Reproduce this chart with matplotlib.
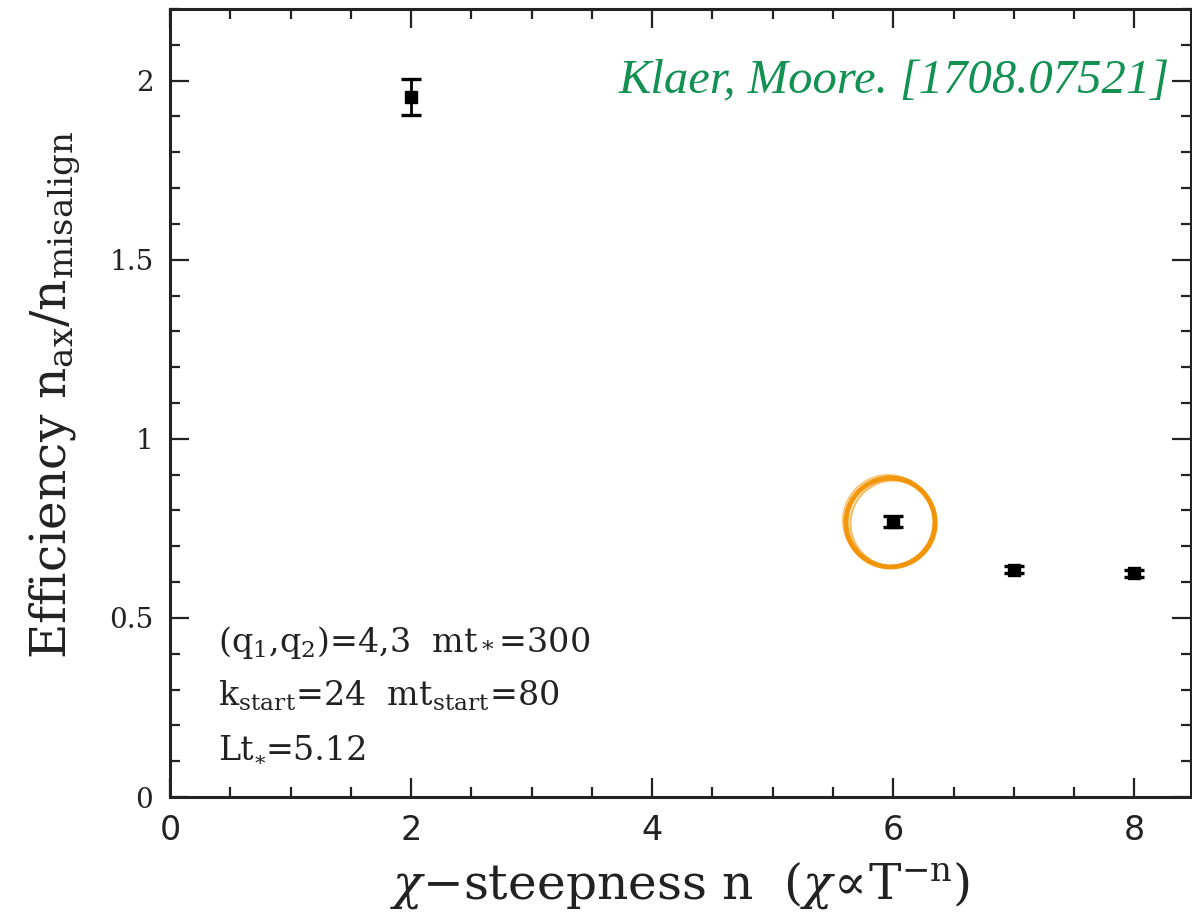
import matplotlib
matplotlib.use("Agg")
import matplotlib.pyplot as plt
from matplotlib.ticker import MultipleLocator

# Data: efficiency vs. chi-steepness exponent n
steepness = [2, 6, 7, 8]
efficiency = [1.955, 0.769, 0.635, 0.624]
efficiency_err = [0.050, 0.015, 0.010, 0.010]

xticks = [0, 2, 4, 6, 8]
yticks = [0, 0.5, 1, 1.5, 2]
ytick_labels = ["0", "0.5", "1", "1.5", "2"]

highlight_n = 6
highlight_eff = 0.769

param_lines = [r"(q$_1$,q$_2$)=4,3  mt$_*$=300",
               r"k$_{\mathrm{start}}$=24  mt$_{\mathrm{start}}$=80"]
lt_pieces = ("Lt", "*", "=5.12")

plt.rcParams["mathtext.fontset"] = "dejavuserif"

fig = plt.figure(figsize=(11.92, 9.17), dpi=100)
ax = fig.add_axes([170 / 1192, 1 - 797 / 917, 1021 / 1192, 788 / 917])

ax.errorbar(steepness, efficiency, yerr=efficiency_err, fmt="s", color="black",
            markersize=8, capsize=7, capthick=2.4, elinewidth=2.0, zorder=3)

# Hand-drawn style ring around the n=6 point
for dx, dy, ms, lw, a in [(0, 0, 64, 3.6, 0.95), (0.02, -0.004, 62, 1.6, 0.6),
                          (-0.015, 0.005, 65.5, 1.4, 0.55)]:
    ax.plot([highlight_n - 0.025 + dx], [highlight_eff + dy], "o", ms=ms,
            mfc="none", mec="#f39200", mew=lw, alpha=a, zorder=2)

ax.set_xlim(0, 8.47)
ax.set_ylim(0, 2.2)
ax.set_xticks(xticks)
ax.set_yticks(yticks)
ax.set_yticklabels(ytick_labels)
ax.xaxis.set_minor_locator(MultipleLocator(0.5))
ax.yaxis.set_minor_locator(MultipleLocator(0.1))

ax.tick_params(which="both", direction="in", top=True, right=True, width=1.6, color="#222222")
ax.tick_params(which="major", length=14)
ax.tick_params(which="minor", length=7)
ax.tick_params(axis="x", pad=12)
ax.tick_params(axis="y", pad=12)
for s in ax.spines.values():
    s.set_linewidth(2.2)
    s.set_color("#222222")

for lab in ax.get_xticklabels():
    lab.set_fontfamily("DejaVu Sans")
    lab.set_fontsize(24)
    lab.set_color("#222222")
for lab in ax.get_yticklabels():
    lab.set_fontfamily("DejaVu Serif")
    lab.set_fontsize(20)
    lab.set_color("#222222")

ax.set_xlabel(r"$\chi$$-$steepness n  ($\chi\!\propto\!$T$^{-\mathrm{n}}$)",
              fontfamily="DejaVu Serif", fontsize=35, color="#222222", labelpad=9)
ax.set_ylabel(r"Efficiency n$_{\mathrm{ax}}$/n$_{\mathrm{misalign}}$",
              fontfamily="DejaVu Serif", fontsize=35, color="#222222")
ax.yaxis.set_label_coords(-0.086, 0.51)

# Simulation parameters, one line per text so each baseline is placed exactly
x0 = 48 / 1021
txt_kw = dict(fontfamily="DejaVu Serif", color="#222222", va="baseline", ha="left")
for line, base_px in zip(param_lines, [652, 706]):
    ax.text(x0, (797 - base_px) / 788, line, transform=ax.transAxes,
            fontsize=24, **txt_kw)

# Third line built from plain-text pieces: "Lt", lowered small "*", "=5.12"
y3 = (797 - 760) / 788
renderer = fig.canvas.get_renderer()
t_lt = ax.text(x0, y3, lt_pieces[0], transform=ax.transAxes, fontsize=24, **txt_kw)
w_lt = t_lt.get_window_extent(renderer).width * 72 / fig.dpi
t_star = ax.annotate(lt_pieces[1], xy=(x0, y3), xycoords="axes fraction",
                     xytext=(w_lt + 0.5, -7), textcoords="offset points",
                     fontsize=15, **txt_kw)
w_star = t_star.get_window_extent(renderer).width * 72 / fig.dpi
ax.annotate(lt_pieces[2], xy=(x0, y3), xycoords="axes fraction",
            xytext=(w_lt + w_star + 1.0, 0), textcoords="offset points",
            fontsize=24, **txt_kw)

ax.text(1000 / 1021, (797 - 80) / 788, "Klaer, Moore. [1708.07521]",
        transform=ax.transAxes, ha="right", va="center",
        fontfamily="Liberation Serif", fontstyle="italic", fontsize=35,
        color="#129152")

fig.savefig("out.png", dpi=100)
